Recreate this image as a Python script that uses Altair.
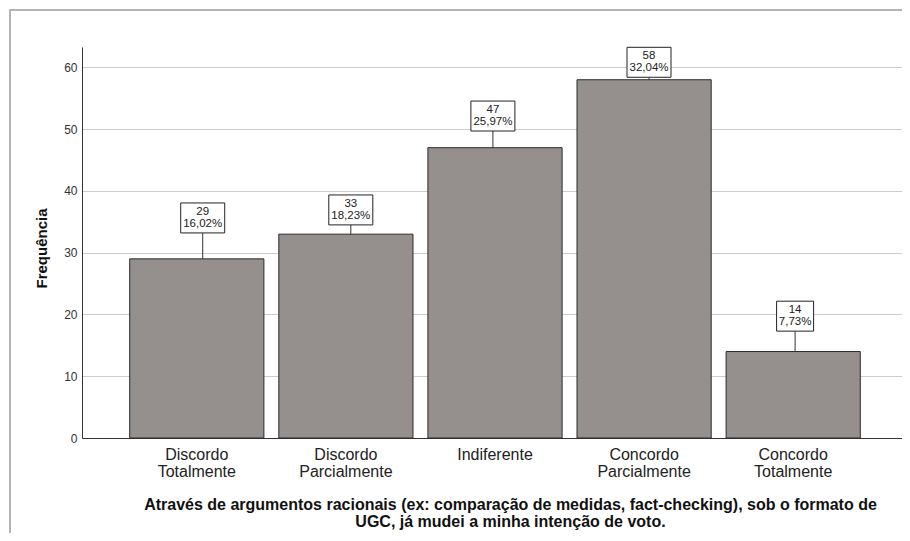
import altair as alt
import pandas as pd

categories = ["Discordo Totalmente", "Discordo Parcialmente", "Indiferente",
              "Concordo Parcialmente", "Concordo Totalmente"]
counts = [29, 33, 47, 58, 14]
percents = ["16,02%", "18,23%", "25,97%", "32,04%", "7,73%"]
# leader line length (data units) between bar top and its label box
leader = [4.2, 1.5, 2.7, 0.4, 3.3]
# horizontal shift (px) of each label box from its bar centre
label_shift = [6, 5, -2, 5, 2]

BOX_H = 4.85   # label box height in data units
HALF_BAND = 67  # half of the bar width in px

df = pd.DataFrame({
    "cat": categories,
    "count": counts,
    "pct": percents,
})
df["box_lo"] = [c + l for c, l in zip(counts, leader)]
df["box_hi"] = df["box_lo"] + BOX_H
df["label"] = [f"{c}\n{p}" for c, p in zip(counts, percents)]
df["bw"] = [7 * len(p) + 2 for p in percents]
df["shift"] = [HALF_BAND + s for s in label_shift]

FONT = "Liberation Sans"

x = alt.X("cat:N", sort=categories,
          scale=alt.Scale(paddingInner=0.1, paddingOuter=0.32),
          axis=alt.Axis(
              title=["Através de argumentos racionais (ex: comparação de medidas, fact-checking), sob o formato de",
                     "UGC, já mudei a minha intenção de voto."],
              labelExpr="split(datum.label, ' ')",
              labelAngle=0, labelFontSize=16, labelFont=FONT, labelColor="#222222",
              labelLineHeight=17, labelPadding=8, labelBaseline="top",
              ticks=False, domainColor="#333333", domainWidth=1,
              titleFont=FONT, titleFontSize=16, titleFontWeight="bold", titleColor="#111111",
              titleX=428, titleY=58, titleBaseline="top", titleAlign="center",
              titleLineHeight=17,
          ))
yscale = alt.Scale(domain=[0, 63.3], nice=False, zero=True)

bars = alt.Chart(df).mark_bar(color="#958f8e", stroke="#2b2b2b", strokeWidth=1).encode(
    x=x,
    y=alt.Y("count:Q", scale=yscale,
            axis=alt.Axis(title="Frequência", values=[0, 10, 20, 30, 40, 50, 60],
                          ticks=False, labelPadding=5, labelFontSize=12, labelFont=FONT,
                          labelColor="#333333", domainColor="#333333",
                          grid=True, gridColor="#cccccc", gridWidth=1,
                          titleFont=FONT, titleFontSize=15, titleFontWeight="bold",
                          titleColor="#111111", titleAngle=-90, titleX=-41, titleY=201,
                          titleAlign="center", titleBaseline="middle")),
)

xo = alt.XOffset("shift:Q", scale=None)

leaders = alt.Chart(df).mark_rule(color="#333333", strokeWidth=1).encode(
    x=alt.X("cat:N", sort=categories),
    xOffset=xo,
    y=alt.Y("count:Q", scale=yscale),
    y2="box_lo:Q",
)

boxes = alt.Chart(df).mark_bar(fill="white", stroke="#222222", strokeWidth=1).encode(
    x=alt.X("cat:N", sort=categories),
    xOffset=xo,
    y=alt.Y("box_lo:Q", scale=yscale),
    y2="box_hi:Q",
    size=alt.Size("bw:Q", scale=None, legend=None),
)

texts = alt.Chart(df).mark_text(lineBreak="\n", fontSize=11.5, font=FONT, color="#222222",
                                lineHeight=12, baseline="top", align="center", dy=3).encode(
    x=alt.X("cat:N", sort=categories),
    xOffset=xo,
    y=alt.Y("box_hi:Q", scale=yscale),
    text="label:N",
)

frame = alt.Chart(df).mark_rect(fill=None, stroke="#b4b4b4", strokeWidth=2).encode(
    x=alt.value(-72), x2=alt.value(860), y=alt.value(-37), y2=alt.value(520),
)

chart = alt.layer(frame, bars, leaders, boxes, texts).properties(
    width=826, height=391,
    autosize=alt.AutoSizeParams(type="none"),
    padding={"left": 74, "top": 39, "right": -6, "bottom": 95},
    background="white",
).configure_view(stroke=None)

chart.save("out.html", embed_options={"renderer": "svg", "actions": False})
